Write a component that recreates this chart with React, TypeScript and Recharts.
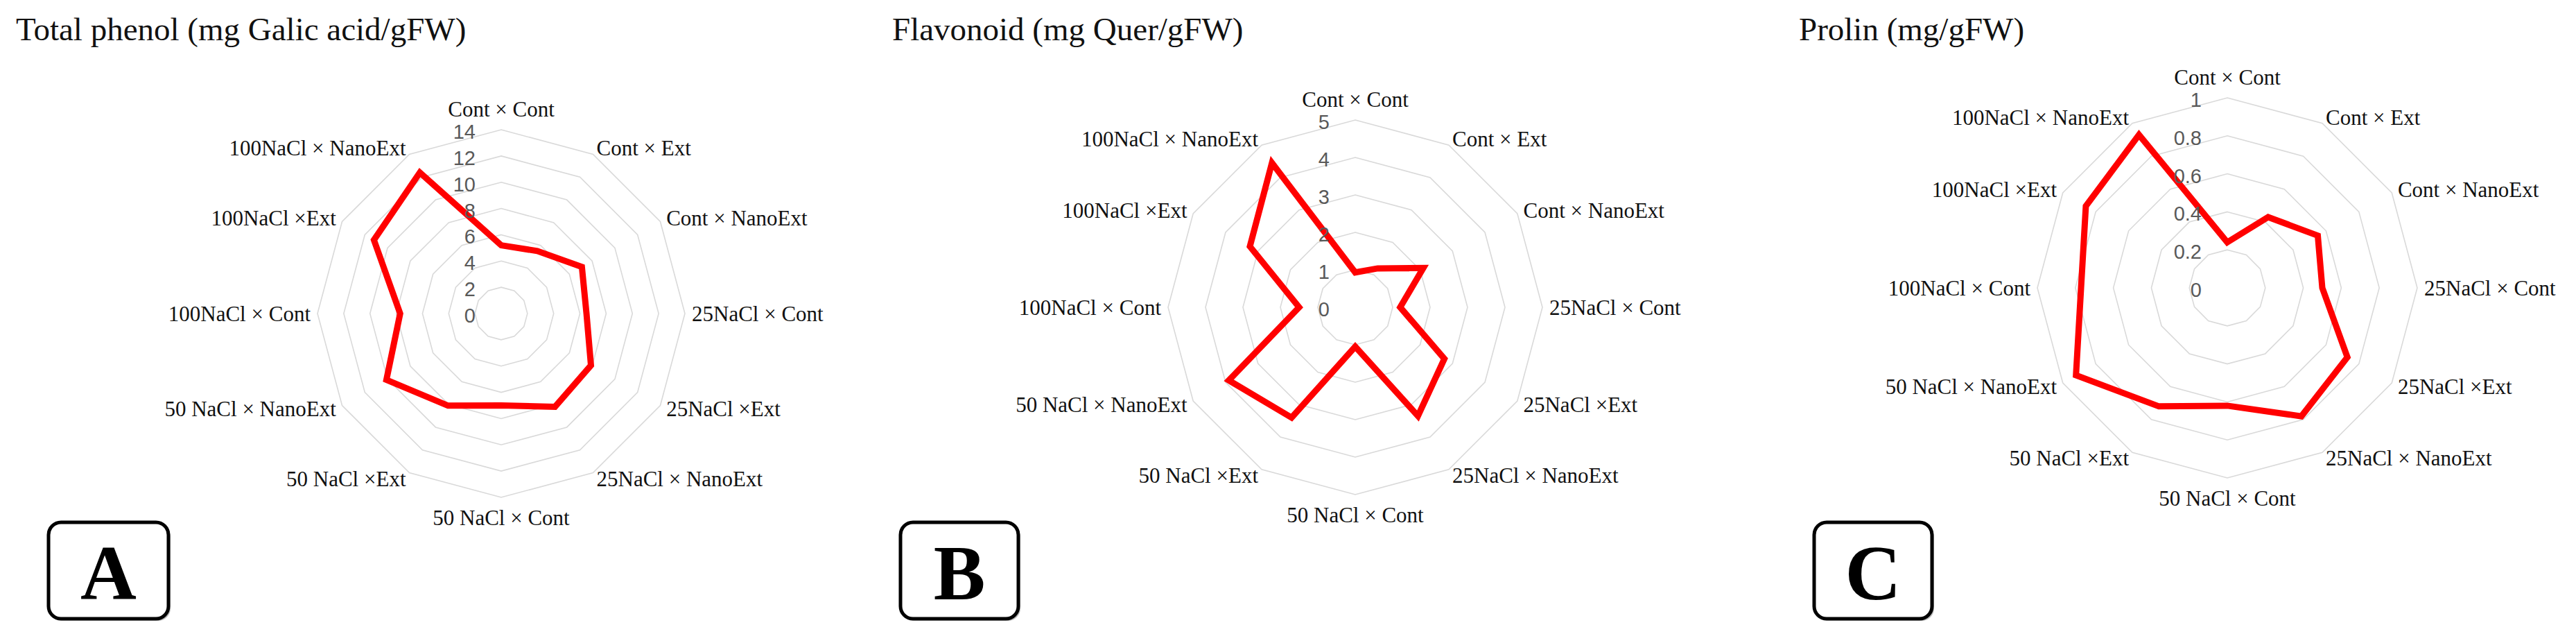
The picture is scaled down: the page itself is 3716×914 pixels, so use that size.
import {
  RadarChart,
  Radar,
  PolarGrid,
  PolarAngleAxis,
  PolarRadiusAxis,
} from "recharts";

const categorias = [
  "Cont × Cont",
  "Cont × Ext",
  "Cont × NanoExt",
  "25NaCl × Cont",
  "25NaCl ×Ext",
  "25NaCl × NanoExt",
  "50 NaCl × Cont",
  "50 NaCl ×Ext",
  "50 NaCl × NanoExt",
  "100NaCl × Cont",
  "100NaCl ×Ext",
  "100NaCl × NanoExt",
];

const totalPhenol = [5.2, 5.5, 7.1, 6.5, 7.9, 8.2, 7.0, 8.1, 10.1, 7.7, 11.2, 12.4];
const flavonoid = [0.93, 1.2, 2.1, 1.2, 2.75, 3.35, 1.05, 3.4, 3.9, 1.5, 3.25, 4.45];
const prolin = [0.24, 0.43, 0.55, 0.5, 0.73, 0.78, 0.62, 0.72, 0.92, 0.77, 0.86, 0.93];

const ticksPhenol = [0, 2, 4, 6, 8, 10, 12, 14];
const ticksFlavonoid = [0, 1, 2, 3, 4, 5];
const ticksProlin = [0, 0.2, 0.4, 0.6, 0.8, 1];

const titulos = ["Total phenol (mg Galic acid/gFW)", "Flavonoid (mg Quer/gFW)", "Prolin (mg/gFW)"];
const letras = ["A", "B", "C"];

const SERIF = "'Liberation Serif', 'Times New Roman', serif";
const SANS = "'Liberation Sans', 'Open Sans', sans-serif";

interface Props {
  values: number[];
  ticks: number[];
  left: number;
  cx: number;
  cy: number;
  r: number;
}

function Radial({ values, ticks, left, cx, cy, r }: Props) {
  const data = categorias.map((c, i) => ({ cat: c, value: values[i] }));
  const max = ticks[ticks.length - 1];

  // etiquetas de categoria: centradas en los lados, arriba/abajo en el eje vertical
  const angleTick = (p: any) => {
    const i = p.index as number;
    const th = ((90 - (360 * i) / categorias.length) * Math.PI) / 180;
    const cos = Math.cos(th);
    const sin = Math.sin(th);
    let x = cx + (r + 10) * cos;
    let y = cy - (r + 10) * sin;
    let anchor = cos > 0.01 ? "start" : cos < -0.01 ? "end" : "middle";
    let base = "central";
    if (anchor === "middle") {
      x = cx;
      base = "auto";
      y = sin > 0 ? cy - r - 19 : cy + r + 40;
    }
    return (
      <text
        x={x}
        y={y}
        textAnchor={anchor}
        dominantBaseline={base}
        fontFamily={SERIF}
        fontSize={31}
        fill="#111"
      >
        {p.payload.value}
      </text>
    );
  };

  const radiusTick = (p: any) => (
    <text
      x={p.x - 37}
      y={p.y + 3}
      textAnchor="end"
      dominantBaseline="central"
      fontFamily={SANS}
      fontSize={29}
      fill="#595959"
    >
      {String(parseFloat(Number(p.payload.value).toFixed(2)))}
    </text>
  );

  return (
    <div style={{ position: "absolute", left, top: 0 }}>
      <RadarChart width={1240} height={914} data={data} cx={cx} cy={cy} outerRadius={r}>
        <PolarGrid gridType="polygon" radialLines={false} stroke="#d9d9d9" strokeWidth={1.6} />
        <PolarAngleAxis dataKey="cat" tick={angleTick} tickLine={false} axisLine={false} />
        <PolarRadiusAxis
          angle={90}
          domain={[0, max]}
          ticks={ticks}
          tickCount={ticks.length}
          tick={radiusTick}
          axisLine={false}
          tickLine={false}
        />
        <Radar
          dataKey="value"
          stroke="#ff0000"
          strokeWidth={9}
          fill="none"
          fillOpacity={0}
          dot={false}
          isAnimationActive={false}
        />
      </RadarChart>
    </div>
  );
}

export default function App() {
  const tituloX = [23, 1287, 2595];
  const cajaX = [70, 1299, 2617];
  const cajaW = [173, 170, 170];
  return (
    <div style={{ position: "absolute", left: 0, top: 0, width: 3716, height: 914, background: "#fff" }}>
      <Radial values={totalPhenol} ticks={ticksPhenol} left={0} cx={723} cy={452} r={265} />
      <Radial values={flavonoid} ticks={ticksFlavonoid} left={1240} cx={715} cy={443} r={270} />
      <Radial values={prolin} ticks={ticksProlin} left={2476} cx={737} cy={415} r={274} />
      <svg
        width={3716}
        height={914}
        style={{ position: "absolute", left: 0, top: 0, pointerEvents: "none" }}
      >
        {titulos.map((t, i) => (
          <text key={t} x={tituloX[i]} y={58} fontFamily={SERIF} fontSize={47} fill="#111">
            {t}
          </text>
        ))}
        {letras.map((l, i) => (
          <g key={l}>
            <rect x={cajaX[i] + 3} y={756} width={cajaW[i]} height={139} rx={18} fill="#bbb" />
            <rect
              x={cajaX[i]}
              y={753}
              width={cajaW[i]}
              height={139}
              rx={18}
              fill="#fff"
              stroke="#000"
              strokeWidth={5}
            />
            <text
              x={cajaX[i] + cajaW[i] / 2}
              y={864}
              textAnchor="middle"
              fontFamily={SERIF}
              fontWeight="bold"
              fontSize={112}
              fill="#000"
            >
              {l}
            </text>
          </g>
        ))}
      </svg>
    </div>
  );
}
